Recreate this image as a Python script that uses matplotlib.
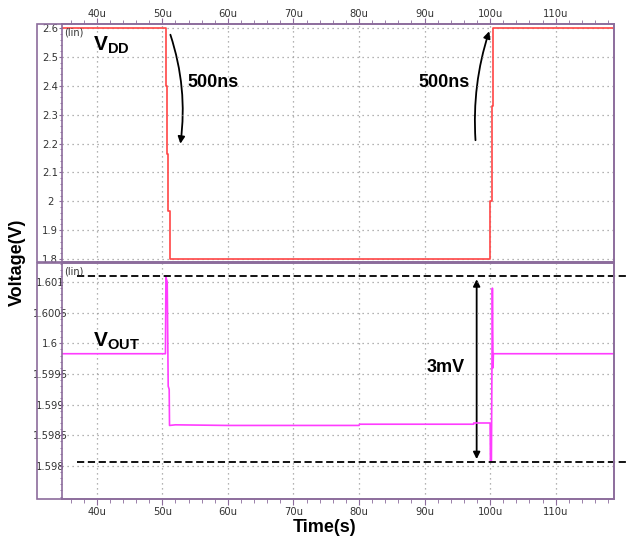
import matplotlib
matplotlib.use("Agg")
import matplotlib.pyplot as plt
from matplotlib.patches import Rectangle, FancyArrowPatch
from matplotlib.ticker import MultipleLocator, AutoMinorLocator

plt.rcParams['mathtext.fontset'] = 'custom'
plt.rcParams['mathtext.rm'] = 'Liberation Sans'
plt.rcParams['mathtext.bf'] = 'Liberation Sans:bold'

# VDD step (time in us, volts)
t_vdd = [34.7, 50.53, 50.53, 50.73, 50.73, 50.93, 50.93, 51.15, 51.15,
         100.0, 100.0, 100.25, 100.25, 100.4, 100.4, 100.5, 100.5, 118.9]
v_vdd = [2.6, 2.6, 2.40, 2.40, 2.164, 2.164, 1.968, 1.968, 1.8,
         1.8, 2.0, 2.0, 2.33, 2.33, 2.56, 2.56, 2.6, 2.6]

# VOUT response
t_out = [34.7, 50.48, 50.55, 50.75, 50.9, 51.05, 51.1, 52.0, 60.0, 80.0, 80.1,
         97.5, 97.5, 100.0, 100.05, 100.2, 100.35, 100.45, 100.5, 118.9]
v_out = [1.59983, 1.59983, 1.60108, 1.6010, 1.5993, 1.59925, 1.59866, 1.59867,
         1.59866, 1.59866, 1.59868, 1.59868, 1.59870, 1.59870, 1.59808,
         1.59808, 1.6009, 1.5996, 1.59983, 1.59983]

x_ticks = [40, 50, 60, 70, 80, 90, 100, 110]
top_yticks = [1.8, 1.9, 2.0, 2.1, 2.2, 2.3, 2.4, 2.5, 2.6]
bot_yticks = [1.598, 1.5985, 1.599, 1.5995, 1.6, 1.6005, 1.601]
top_ylabels = ['1.8', '1.9', '2', '2.1', '2.2', '2.3', '2.4', '2.5', '2.6']
bot_ylabels = ['1.598', '1.5985', '1.599', '1.5995', '1.6', '1.6005', '1.601']

frame = '#8c6c9c'
red = '#ff4646'
magenta = '#ff3cff'
W, H = 627, 540

fig = plt.figure(figsize=(6.27, 5.4), dpi=100)
ax1 = fig.add_axes([62 / W, 1 - 262 / H, (614 - 62) / W, (262 - 24) / H])
ax2 = fig.add_axes([62 / W, 1 - 499 / H, (614 - 62) / W, (499 - 263) / H])

# outer frames
for y0, y1 in [(24, 262), (263, 499)]:
    fig.patches.append(Rectangle((37 / W, 1 - y1 / H), (614 - 37) / W, (y1 - y0) / H,
                                 transform=fig.transFigure, fill=False, ec=frame, lw=1.2))

ax1.plot(t_vdd, v_vdd, color=red, lw=1.2)
ax2.plot(t_out, v_out, color=magenta, lw=1.2)

ax1.set_ylim(1.79, 2.614)
ax2.set_ylim(1.59746, 1.60131)
for ax, yt, yl in [(ax1, top_yticks, top_ylabels), (ax2, bot_yticks, bot_ylabels)]:
    ax.set_xlim(34.7, 118.9)
    ax.set_xticks(x_ticks)
    ax.set_xticklabels([f'{v}u' for v in x_ticks])
    ax.xaxis.set_minor_locator(MultipleLocator(2))
    ax.set_yticks(yt)
    ax.set_yticklabels(yl, ha='center')
    ax.yaxis.set_minor_locator(AutoMinorLocator(5))
    ax.grid(True, which='major', color='#9a9a9a', ls=(0, (1, 3)), lw=0.9)
    for s in ax.spines.values():
        s.set_color(frame)
        s.set_linewidth(1.2)
    ax.tick_params(axis='both', which='both', colors=frame, labelcolor='#333333',
                   labelsize=7.2)
    ax.tick_params(axis='x', which='major', length=4, pad=1.5)
    ax.tick_params(axis='x', which='minor', length=3)
    ax.tick_params(axis='y', which='major', length=2, pad=6.6)
    ax.tick_params(axis='y', which='minor', length=1.5)
    ax.text(0.003, 0.985, '(lin)', transform=ax.transAxes, fontsize=7,
            color='#333333', va='top', ha='left')

ax1.xaxis.tick_top()
ax1.tick_params(axis='x', which='major', pad=-0.5)

# labels
ax1.text(39.5, 2.54, r'$\mathbf{V_{DD}}$', fontsize=15, va='center')
ax2.text(39.5, 1.60003, r'$\mathbf{V_{OUT}}$', fontsize=15, va='center')
ax1.text(53.9, 2.41, '500ns', fontsize=13, fontweight='bold',
         family='Liberation Sans', va='center')
ax1.text(89.0, 2.41, '500ns', fontsize=13, fontweight='bold',
         family='Liberation Sans', va='center')
ax2.text(93.3, 1.5996, '3mV', fontsize=13, fontweight='bold',
         family='Liberation Sans', va='center', ha='center')

ax1.add_patch(FancyArrowPatch((51.1, 2.586), (52.7, 2.19), arrowstyle='-|>',
                              mutation_scale=10, connectionstyle='arc3,rad=-0.12',
                              color='black', lw=1.3))
ax1.add_patch(FancyArrowPatch((97.8, 2.202), (100.0, 2.598), arrowstyle='-|>',
                              mutation_scale=10, connectionstyle='arc3,rad=-0.1',
                              color='black', lw=1.3))

# 3mV span markers
ax2.plot([36.95, 120.9], [1.60109, 1.60109], color='black', lw=1.3,
         dashes=(4, 2), clip_on=False)
ax2.plot([36.95, 120.9], [1.598065, 1.598065], color='black', lw=1.3,
         dashes=(4, 2), clip_on=False)
ax2.add_patch(FancyArrowPatch((97.95, 1.598065), (97.95, 1.60109), arrowstyle='<|-|>',
                              mutation_scale=10, color='black', lw=1.3))

fig.text(17 / W, 1 - 262 / H, 'Voltage(V)', rotation=90, fontsize=13,
         fontweight='bold', family='Liberation Sans', ha='center', va='center')
fig.text(325 / W, 1 - 527 / H, 'Time(s)', fontsize=13, fontweight='bold',
         family='Liberation Sans', ha='center', va='center')

fig.savefig('out.png', dpi=100)
